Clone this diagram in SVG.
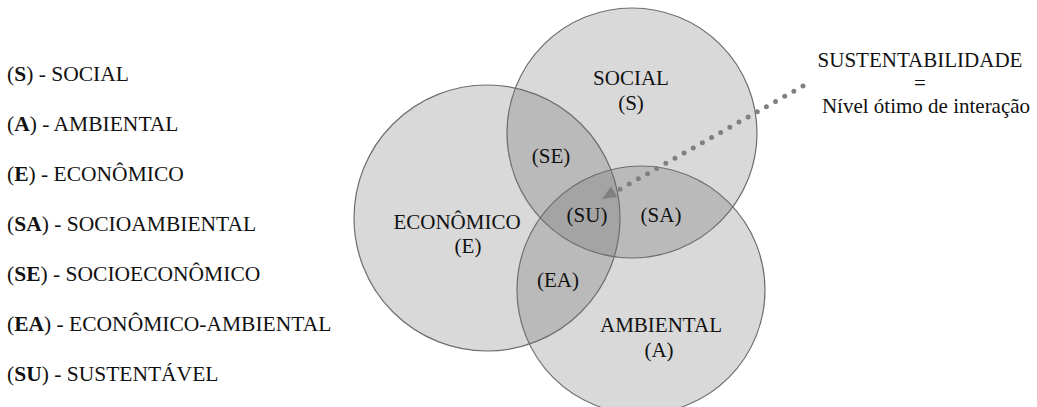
<svg xmlns="http://www.w3.org/2000/svg" width="1037" height="407" viewBox="0 0 1037 407" font-family="Liberation Serif, DejaVu Serif, serif">
<style>
text{font-family:'Liberation Serif','DejaVu Serif',serif;font-size:21px;fill:#111}
.lg{font-size:21.5px}
.c{text-anchor:middle}
.b{font-weight:bold}
.base{fill:#d9d9d9}
.two{fill:#bababa}
.three{fill:#a4a4a4}
.edge{fill:none;stroke:#6e6e6e;stroke-width:1.2}
.dots{fill:none;stroke:#808080;stroke-width:5;stroke-linecap:round;stroke-dasharray:0 10.5}
</style>
<defs>
<clipPath id="cS"><circle cx="632" cy="133" r="125"/></clipPath>
<clipPath id="cE"><circle cx="487" cy="218" r="133"/></clipPath>
<clipPath id="cA"><circle cx="641" cy="290" r="124"/></clipPath>
</defs>
<rect width="1037" height="407" fill="#ffffff"/>
<g id="legend">
<text class="lg" x="7" y="81">(<tspan class="b">S</tspan>) - SOCIAL</text>
<text class="lg" x="7" y="131">(<tspan class="b">A</tspan>) - AMBIENTAL</text>
<text class="lg" x="7" y="181">(<tspan class="b">E</tspan>) - ECONÔMICO</text>
<text class="lg" x="7" y="231">(<tspan class="b">SA</tspan>) - SOCIOAMBIENTAL</text>
<text class="lg" x="7" y="281">(<tspan class="b">SE</tspan>) - SOCIOECONÔMICO</text>
<text class="lg" x="7" y="331">(<tspan class="b">EA</tspan>) - ECONÔMICO-AMBIENTAL</text>
<text class="lg" x="7" y="381">(<tspan class="b">SU</tspan>) - SUSTENTÁVEL</text>
</g>
<g id="venn-fills">
<circle class="base" cx="487" cy="218" r="133"/>
<circle class="base" cx="632" cy="133" r="125"/>
<circle class="base" cx="641" cy="290" r="124"/>
<g clip-path="url(#cS)"><circle class="two" cx="487" cy="218" r="133"/><circle class="two" cx="641" cy="290" r="124"/></g>
<g clip-path="url(#cE)"><circle class="two" cx="641" cy="290" r="124"/></g>
<g clip-path="url(#cS)"><g clip-path="url(#cE)"><circle class="three" cx="641" cy="290" r="124"/></g></g>
</g>
<g id="node-economico">
<circle class="edge" cx="487" cy="218" r="133"/>
<text class="c" x="457" y="229">ECONÔMICO</text>
<text class="c" x="468" y="253">(E)</text>
</g>
<g id="node-social">
<circle class="edge" cx="632" cy="133" r="125"/>
<text class="c" x="631" y="85">SOCIAL</text>
<text class="c" x="631" y="110">(S)</text>
</g>
<g id="node-ambiental">
<circle class="edge" cx="641" cy="290" r="124"/>
<text class="c" x="661" y="332">AMBIENTAL</text>
<text class="c" x="659" y="357">(A)</text>
</g>
<g id="intersections">
<text class="c" x="551" y="163">(SE)</text>
<text class="c" x="587" y="222">(SU)</text>
<text class="c" x="661" y="222">(SA)</text>
<text class="c" x="558" y="287">(EA)</text>
</g>
<g id="node-sustentabilidade">
<text class="c" x="920" y="67">SUSTENTABILIDADE</text>
<text class="c" x="920" y="90">=</text>
<text class="c" x="926" y="113">Nível ótimo de interação</text>
</g>
<g id="connectors">
<path class="dots" d="M803 86 L615 192"/>
<polygon points="602,199 617.5,197 611,186.5" fill="#808080"/>
</g>
</svg>
